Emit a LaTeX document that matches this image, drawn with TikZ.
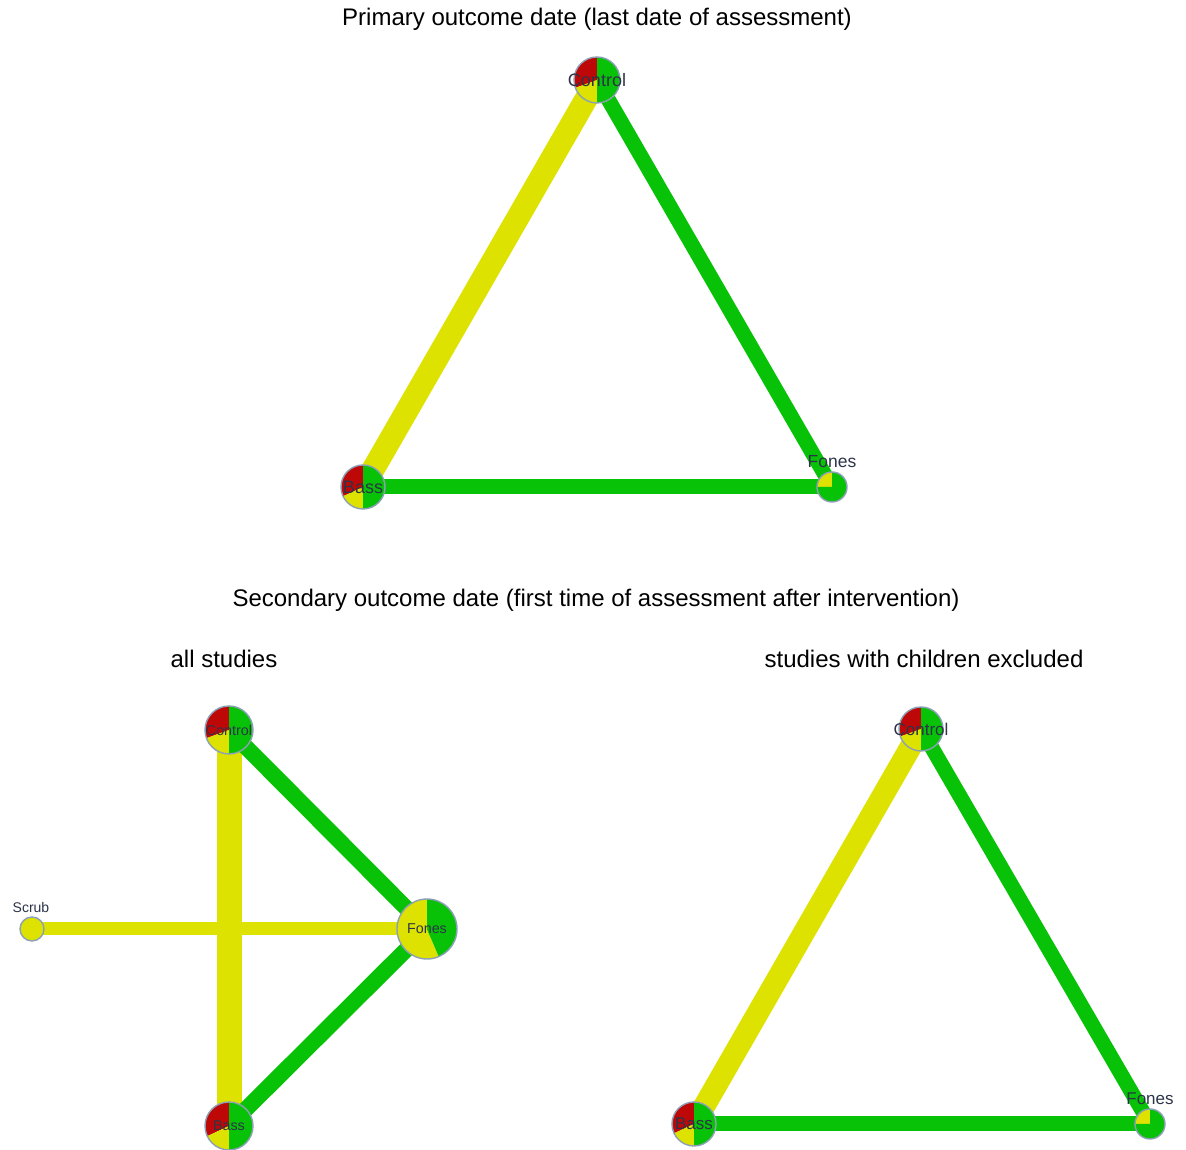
\documentclass[tikz,border=0pt]{standalone}
\usepackage{fontspec}
\setmainfont{Liberation Sans}
\definecolor{cred}{RGB}{190,8,8}
\definecolor{cyel}{RGB}{221,226,0}
\definecolor{cgrn}{RGB}{8,194,8}
\definecolor{cring}{RGB}{140,160,182}
\definecolor{ctxt}{RGB}{44,52,72}
\tikzset{
  title/.style={font=\fontsize{24}{28}\selectfont, text=black, inner sep=0},
  lbl/.style={font=\fontsize{#1}{#1}\selectfont, text=ctxt, inner sep=0},
  edgey/.style={draw=cyel, line width=#1},
  edgeg/.style={draw=cgrn, line width=#1},
  ring/.style={draw=cring, line width=1.4pt},
}
% #1 name, #2 position, #3 radius (pt)
\newcommand{\spot}[3]{\node[circle, inner sep=0, minimum size={2*#3pt}] (#1) at (#2) {};}
% #1 name, #2 radius, #3 slices
\newcommand{\piefill}[3]{%
  \foreach \sa/\sb/\sc in {#3}{%
    \fill[\sc] (#1.center) -- ++(\sa:#2pt) arc[start angle=\sa, end angle=\sb, radius=#2pt] -- cycle;}%
  \draw[ring] (#1.center) circle[radius=#2pt];}
\begin{document}
\begin{tikzpicture}[x=1pt,y=1pt]
\useasboundingbox (0,0) rectangle (1186,1150);
\fill[white] (0,0) rectangle (1186,1150);

% titles
\node[title] (t1) at (597,1131) {Primary outcome date (last date of assessment)};
\node[title] (t2) at (596,550) {Secondary outcome date (first time of assessment after intervention)};
\node[title] (t3) at (224,491) {all studies};
\node[title] (t4) at (924,491) {studies with children excluded};

% ---------- top network
\spot{C1}{597,1070}{23}
\spot{B1}{363,663}{22}
\spot{F1}{832,663}{15}
\draw[edgey=23pt] (C1.center) -- (B1.center);
\draw[edgeg=15pt] (C1.center) -- (F1.center);
\draw[edgeg=15pt] (B1.center) -- (F1.center);
\piefill{C1}{23}{90/200/cred,200/270/cyel,270/450/cgrn}
\piefill{B1}{22}{90/205/cred,205/270/cyel,270/450/cgrn}
\piefill{F1}{15}{90/180/cyel,180/450/cgrn}
\node[lbl=18] (lC1) at (C1.center) {Control};
\node[lbl=18] (lB1) at (B1.center) {Bass};
\node[lbl=17.5] (lF1) at (832,688) {Fones};

% ---------- bottom-left network
\spot{C2}{229,420}{24}
\spot{B2}{229,24}{24}
\spot{F2}{427,221}{30}
\spot{S2}{32,221}{12}
\draw[edgey=13pt] (S2.center) -- (F2.center);
\draw[edgey=25pt] (C2.center) -- (B2.center);
\draw[edgeg=16pt] (C2.center) -- (F2.center);
\draw[edgeg=16pt] (B2.center) -- (F2.center);
\piefill{C2}{24}{90/200/cred,200/270/cyel,270/450/cgrn}
\piefill{B2}{24}{90/205/cred,205/270/cyel,270/450/cgrn}
\piefill{F2}{30}{90/293/cyel,293/450/cgrn}
\piefill{S2}{12}{0/360/cyel}
\node[lbl=14.3] (lC2) at (C2.center) {Control};
\node[lbl=14.3] (lB2) at (B2.center) {Bass};
\node[lbl=14.3] (lF2) at (F2.center) {Fones};
\node[lbl=14] (lS2) at (31,242) {Scrub};

% ---------- bottom-right network
\spot{C3}{921,421}{22}
\spot{B3}{694,26}{22}
\spot{F3}{1150,26}{15}
\draw[edgey=22pt] (C3.center) -- (B3.center);
\draw[edgeg=15pt] (C3.center) -- (F3.center);
\draw[edgeg=15pt] (B3.center) -- (F3.center);
\piefill{C3}{22}{90/200/cred,200/270/cyel,270/450/cgrn}
\piefill{B3}{22}{90/205/cred,205/270/cyel,270/450/cgrn}
\piefill{F3}{15}{90/180/cyel,180/450/cgrn}
\node[lbl=17] (lC3) at (C3.center) {Control};
\node[lbl=17] (lB3) at (B3.center) {Bass};
\node[lbl=17] (lF3) at (1150,51) {Fones};
\end{tikzpicture}
\end{document}
